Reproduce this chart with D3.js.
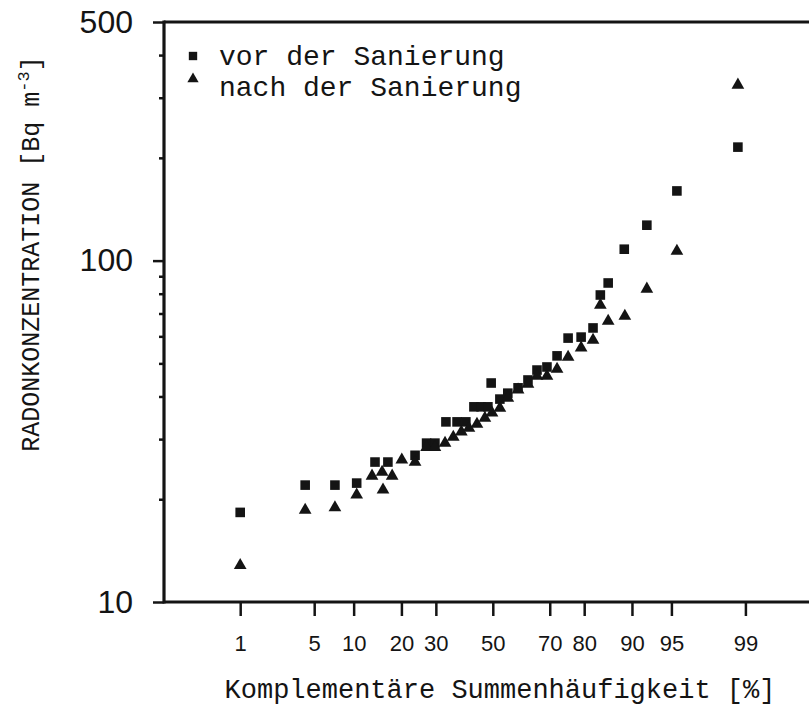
<!DOCTYPE html>
<html><head><meta charset="utf-8">
<script src="https://cdn.jsdelivr.net/npm/d3@7"></script>
<style>body{margin:0;background:#fff}svg{display:block}</style>
</head><body>
<svg id="c" width="809" height="715"></svg>
<script>
// ---- data ----
const xTickValues = [1, 5, 10, 20, 30, 50, 70, 80, 90, 95, 99];
const yTickLabels = [10, 100, 500];
const yMinorTicks = [20, 30, 40, 50, 60, 70, 80, 90, 200, 300, 400];
const seriesNames = ["vor der Sanierung", "nach der Sanierung"];

const pVor = [1.0, 4.2, 7.3, 10.5, 13.9, 16.7, 23.7, 27.1, 29.7, 33.3, 37.1, 40.2, 43.1, 45.7, 48.2, 49.4,
  52.6, 55.5, 59.2, 62.7, 65.8, 69.1, 72.3, 75.6, 79.2, 82.2, 83.9, 85.6, 88.7, 92.2, 95.5, 98.8];
const valVor = [18.3, 22.0, 22.0, 22.3, 25.7, 25.7, 26.9, 29.2, 29.2, 33.7, 33.7, 33.7, 37.3, 37.3, 37.3, 43.8,
  39.3, 40.9, 42.4, 44.7, 47.8, 48.8, 52.6, 59.3, 59.7, 63.5, 79.3, 86.0, 108, 127, 160, 215];

const pNach = [1.0, 4.2, 7.3, 10.5, 13.3, 15.4, 15.6, 17.7, 20.1, 23.7, 27.1, 29.7, 33.0, 35.8, 38.6, 41.3, 44.2,
  47.1, 49.7, 52.6, 55.5, 59.2, 62.7, 65.8, 69.1, 72.3, 75.6, 79.2, 82.2, 83.9, 85.6, 88.8, 92.2, 95.5, 98.8];
const valNach = [12.8, 18.6, 18.9, 20.6, 23.4, 24.0, 21.3, 23.4, 26.1, 25.7, 28.4, 28.4, 29.2, 30.4, 31.5, 32.3, 33.2,
  34.6, 35.8, 37.0, 39.6, 41.8, 43.5, 45.9, 45.9, 48.1, 52.2, 55.5, 58.5, 74.1, 66.5, 68.8, 82.6, 106.7, 327];

// ---- normal probability transform ----
function probit(p) {
  const a=[-3.969683028665376e+01,2.209460984245205e+02,-2.759285104469687e+02,1.383577518672690e+02,-3.066479806614716e+01,2.506628277459239e+00];
  const b=[-5.447609879822406e+01,1.615858368580409e+02,-1.556989798598866e+02,6.680131188771972e+01,-1.328068155288572e+01];
  const c=[-7.784894002430293e-03,-3.223964580411365e-01,-2.400758277161838e+00,-2.549732539343734e+00,4.374664141464968e+00,2.938163982698783e+00];
  const d=[7.784695709041462e-03,3.224671290700398e-01,2.445134137142996e+00,3.754408661907416e+00];
  const plow=0.02425, phigh=1-plow;
  if (p < plow) { const q=Math.sqrt(-2*Math.log(p)); return (((((c[0]*q+c[1])*q+c[2])*q+c[3])*q+c[4])*q+c[5])/((((d[0]*q+d[1])*q+d[2])*q+d[3])*q+1); }
  if (p <= phigh) { const q=p-0.5, r=q*q; return (((((a[0]*r+a[1])*r+a[2])*r+a[3])*r+a[4])*r+a[5])*q/(((((b[0]*r+b[1])*r+b[2])*r+b[3])*r+b[4])*r+1); }
  const q=Math.sqrt(-2*Math.log(1-p)); return -(((((c[0]*q+c[1])*q+c[2])*q+c[3])*q+c[4])*q+c[5])/((((d[0]*q+d[1])*q+d[2])*q+d[3])*q+1);
}

const L = 164, R = 821.6, T = 22, B = 602;
const ink = "#141414";
const svg = d3.select("#c");
const x = d3.scaleLinear().domain([-3.028, 3.028]).range([L, R]);
const y = d3.scaleLog().domain([10, 500]).range([B, T]);
const xp = p => x(probit(p / 100));

// frame
svg.append("line").attr("x1", L).attr("x2", 830).attr("y1", T).attr("y2", T).attr("stroke", ink).attr("stroke-width", 3.2);
svg.append("line").attr("x1", L).attr("x2", 830).attr("y1", B).attr("y2", B).attr("stroke", ink).attr("stroke-width", 3.2);
svg.append("line").attr("x1", L).attr("x2", L).attr("y1", T - 1.6).attr("y2", B + 1.6).attr("stroke", ink).attr("stroke-width", 3.2);

// y axis major
const yAx = svg.append("g").attr("transform", `translate(${L},0)`)
  .call(d3.axisLeft(y).tickValues(yTickLabels).tickSize(11).tickPadding(20).tickFormat(d3.format("d")));
yAx.select(".domain").remove();
yAx.selectAll("line").attr("stroke", ink).attr("stroke-width", 2.5);
yAx.selectAll("text").attr("font-family", "'Liberation Sans', Arial, sans-serif").attr("font-size", 32).attr("fill", ink);

// y axis minor
const yMin = svg.append("g").attr("transform", `translate(${L},0)`)
  .call(d3.axisLeft(y).tickValues(yMinorTicks).tickSize(5).tickFormat(""));
yMin.select(".domain").remove();
yMin.selectAll("line").attr("stroke", ink).attr("stroke-width", 2.5);

// x axis
const xAx = svg.append("g").attr("transform", `translate(0,${B})`)
  .call(d3.axisBottom(x).tickValues(xTickValues.map(p => probit(p / 100)))
    .tickSize(14).tickPadding(19).tickFormat((d, i) => xTickValues[i]));
xAx.select(".domain").remove();
xAx.selectAll("line").attr("stroke", ink).attr("stroke-width", 2.5);
xAx.selectAll("text").attr("font-family", "'Liberation Sans', Arial, sans-serif").attr("font-size", 22).attr("fill", ink);

// markers
const sq = d3.symbol().type(d3.symbolSquare).size(92);
const tri = d3.symbol().type(d3.symbolTriangle).size(70);
svg.append("g").selectAll("path").data(d3.zip(pVor, valVor)).join("path")
  .attr("d", sq).attr("fill", ink)
  .attr("transform", d => `translate(${xp(d[0])},${y(d[1])})`);
svg.append("g").selectAll("path").data(d3.zip(pNach, valNach)).join("path")
  .attr("d", tri).attr("fill", ink)
  .attr("transform", d => `translate(${xp(d[0])},${y(d[1])})`);

// legend
const mono = "'Liberation Mono', 'DejaVu Sans Mono', monospace";
const lg = svg.append("g");
lg.append("path").attr("d", d3.symbol().type(d3.symbolSquare).size(70)).attr("fill", ink).attr("transform", "translate(193,56)");
lg.append("path").attr("d", d3.symbol().type(d3.symbolTriangle).size(55)).attr("fill", ink).attr("transform", "translate(193,79)");
lg.append("text").attr("x", 219).attr("y", 65).attr("font-family", mono).attr("font-size", 28).attr("fill", ink).text(seriesNames[0]);
lg.append("text").attr("x", 219).attr("y", 96).attr("font-family", mono).attr("font-size", 28).attr("fill", ink).text(seriesNames[1]);

// axis titles
svg.append("text").attr("x", 500).attr("y", 698).attr("text-anchor", "middle")
  .attr("font-family", mono).attr("font-size", 27).attr("fill", ink)
  .text("Komplementäre Summenhäufigkeit [%]");

const yt = svg.append("text").attr("transform", "translate(39,254) rotate(-90)").attr("text-anchor", "middle")
  .attr("font-family", mono).attr("font-size", 25).attr("fill", ink);
yt.append("tspan").text("RADONKONZENTRATION [Bq m");
yt.append("tspan").attr("dy", -10).attr("font-size", 17).text("-3");
yt.append("tspan").attr("dy", 10).text("]");
</script>
</body></html>
